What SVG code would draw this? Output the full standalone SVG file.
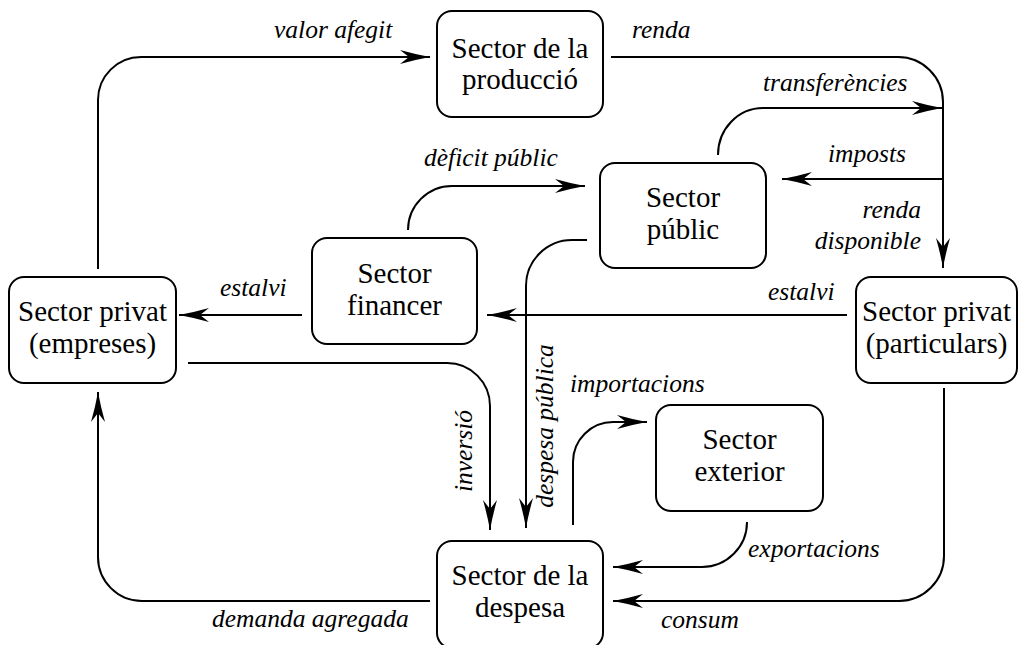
<svg xmlns="http://www.w3.org/2000/svg" width="1020" height="645" viewBox="0 0 1020 645">
<style>
.box{fill:#fff;stroke:#000;stroke-width:2}
.cn{fill:none;stroke:#000;stroke-width:2;marker-end:url(#ah)}
</style>
<defs>
<marker id="ah" markerUnits="userSpaceOnUse" orient="auto" markerWidth="40" markerHeight="20" refX="0" refY="0" viewBox="-32 -10 34 20" overflow="visible">
<path d="M0,0 Q-14,-2.5 -30,-7 L-21,0 L-30,7 Q-14,2.5 0,0 Z" fill="#000"/>
</marker>
</defs>
<rect width="1020" height="645" fill="#fff"/>
<g id="connectors">
<path class="cn" d="M98,269 V100 A43,43 0 0 1 141,57 H430"/>
<path class="cn" d="M611,57 H898 A45,45 0 0 1 943,102 V268"/>
<path class="cn" d="M718,155 A45,47 0 0 1 763,108 H942"/>
<path class="cn" d="M943,179 H782"/>
<path class="cn" d="M847,315 H487"/>
<path class="cn" d="M302,315 H179"/>
<path class="cn" d="M408,230 A44,44 0 0 1 452,186 H585"/>
<path class="cn" d="M587,240 H572 A46,46 0 0 0 526,286 V528"/>
<path class="cn" d="M188,363 H447 A43,43 0 0 1 490,406 V530"/>
<path class="cn" d="M430,601 H142 A44,44 0 0 1 98,557 V392"/>
<path class="cn" d="M944,388 V556 A45,45 0 0 1 899,601 H613"/>
<path class="cn" d="M747,522 A45,45 0 0 1 702,567 H613"/>
<path class="cn" d="M573,525 V462 A40,40 0 0 1 613,422 H647"/>
<g id="labels" font-family="Liberation Serif" font-size="25.5" font-style="italic" fill="#000">
<text x="274" y="38">valor afegit</text>
<text x="632" y="38">renda</text>
<text x="763" y="91">transferències</text>
<text x="828" y="162">imposts</text>
<text x="921" y="218" text-anchor="end">renda</text>
<text x="921" y="249" text-anchor="end">disponible</text>
<text x="768" y="300">estalvi</text>
<text x="220" y="296">estalvi</text>
<text x="424" y="166">dèficit públic</text>
<text x="570" y="392">importacions</text>
<text x="748" y="557">exportacions</text>
<text x="661" y="628">consum</text>
<text x="212" y="627">demanda agregada</text>
<text transform="translate(472,451) rotate(-90)" text-anchor="middle">inversió</text>
<text transform="translate(553,426) rotate(-90)" text-anchor="middle">despesa pública</text>
</g>
</g>
<g id="n-produccio" font-family="Liberation Serif" font-size="29" text-anchor="middle">
<rect class="box" x="437" y="11" width="166" height="106" rx="15"/>
<text x="520" y="58">Sector de la</text>
<text x="520" y="89">producció</text>
</g>
<g id="n-public" font-family="Liberation Serif" font-size="29" text-anchor="middle">
<rect class="box" x="600" y="163" width="166" height="105" rx="15"/>
<text x="683" y="207">Sector</text>
<text x="683" y="239">públic</text>
</g>
<g id="n-financer" font-family="Liberation Serif" font-size="29" text-anchor="middle">
<rect class="box" x="312" y="238" width="165" height="106" rx="15"/>
<text x="394.5" y="283">Sector</text>
<text x="394.5" y="315">financer</text>
</g>
<g id="n-empreses" font-family="Liberation Serif" font-size="29" text-anchor="middle">
<rect class="box" x="9" y="277" width="167" height="106" rx="15"/>
<text x="92.5" y="321">Sector privat</text>
<text x="92.5" y="353">(empreses)</text>
</g>
<g id="n-particulars" font-family="Liberation Serif" font-size="29" text-anchor="middle">
<rect class="box" x="856" y="277" width="161" height="106" rx="15"/>
<text x="936.5" y="321">Sector privat</text>
<text x="936.5" y="353">(particulars)</text>
</g>
<g id="n-exterior" font-family="Liberation Serif" font-size="29" text-anchor="middle">
<rect class="box" x="656" y="405" width="167" height="106" rx="15"/>
<text x="739.5" y="449">Sector</text>
<text x="739.5" y="481">exterior</text>
</g>
<g id="n-despesa" font-family="Liberation Serif" font-size="29" text-anchor="middle">
<rect class="box" x="437" y="541" width="166" height="107" rx="15"/>
<text x="520" y="585">Sector de la</text>
<text x="520" y="617">despesa</text>
</g>
</svg>
